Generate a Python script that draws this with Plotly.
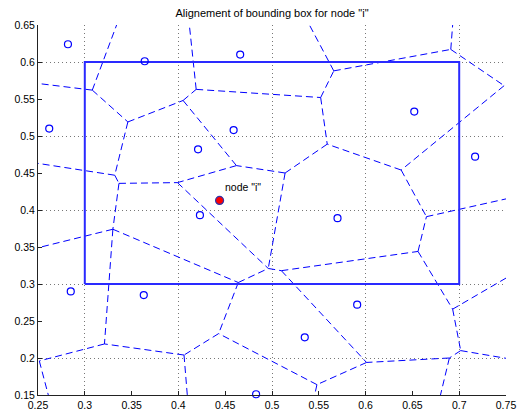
import plotly.graph_objects as go

title_text = 'Alignement of bounding box for node "i"'
node_label = 'node "i"'

# data sites (open circles)
site_x = [0.282, 0.364, 0.466, 0.262, 0.459, 0.421, 0.652, 0.717, 0.423,
          0.285, 0.363, 0.483, 0.570, 0.591, 0.535]
site_y = [0.624, 0.601, 0.610, 0.510, 0.508, 0.482, 0.533, 0.472, 0.393,
          0.290, 0.285, 0.151, 0.389, 0.272, 0.228]

# node "i"
node_x = [0.444]
node_y = [0.413]

# bounding box extents
box_x = [0.3, 0.7]
box_y = [0.3, 0.6]

# Voronoi vertices (incl. points where edges leave the view)
vert_x = [0.308, 0.346, 0.405, 0.332, 0.3365, 0.399, 0.419, 0.552, 0.462, 0.514,
          0.566, 0.691, 0.748, 0.638, 0.559, 0.665, 0.496, 0.510, 0.330, 0.321,
          0.464, 0.443, 0.548, 0.406, 0.2514, 0.656, 0.693, 0.7016, 0.601, 0.6895,
          0.334, 0.25, 0.25, 0.4117, 0.540, 0.693, 0.75, 0.75, 0.75, 0.680,
          0.5456, 0.4095, 0.261, 0.25]
vert_y = [0.562, 0.519, 0.548, 0.447, 0.436, 0.437, 0.563, 0.552, 0.460, 0.450,
          0.588, 0.617, 0.568, 0.454, 0.489, 0.391, 0.321, 0.318, 0.374, 0.219,
          0.302, 0.233, 0.164, 0.204, 0.196, 0.344, 0.266, 0.210, 0.194, 0.200,
          0.65, 0.571, 0.463, 0.65, 0.65, 0.65, 0.415, 0.308, 0.1996, 0.15,
          0.15, 0.15, 0.15, 0.349]

# Voronoi edges as vertex index pairs
edges = [(0, 30), (0, 31), (0, 1), (1, 2), (1, 3), (2, 6), (2, 8), (6, 33), (6, 7),
         (7, 10), (7, 14), (10, 34), (10, 11), (11, 35), (11, 12), (12, 13),
         (13, 14), (13, 15), (14, 9), (9, 8), (9, 16), (8, 5), (3, 32), (3, 4),
         (4, 5), (4, 18), (5, 16), (18, 43), (18, 19), (18, 20), (20, 16), (20, 21),
         (16, 17), (17, 25), (17, 28), (25, 15), (25, 26), (15, 36), (26, 37),
         (26, 27), (27, 38), (27, 29), (29, 28), (29, 39), (28, 22), (22, 21),
         (22, 40), (21, 23), (23, 19), (23, 41), (19, 24), (24, 42)]

x_ticks = [0.25, 0.3, 0.35, 0.4, 0.45, 0.5, 0.55, 0.6, 0.65, 0.7, 0.75]
x_tick_text = ["0.25", "0.3", "0.35", "0.4", "0.45", "0.5", "0.55", "0.6", "0.65", "0.7", "0.75"]
y_ticks = [0.15, 0.2, 0.25, 0.3, 0.35, 0.4, 0.45, 0.5, 0.55, 0.6, 0.65]
y_tick_text = ["0.15", "0.2", "0.25", "0.3", "0.35", "0.4", "0.45", "0.5", "0.55", "0.6", "0.65"]
x_grid = [0.3, 0.4, 0.5, 0.6, 0.7]
y_grid = [0.2, 0.3, 0.4, 0.5, 0.6]

BLUE = "#0000FF"
FONT = "Liberation Sans, Arial, sans-serif"
W, H = 518, 413

ex, ey = [], []
for a, b in edges:
    ex += [vert_x[a], vert_x[b], None]
    ey += [vert_y[a], vert_y[b], None]

rx = [box_x[0], box_x[1], box_x[1], box_x[0], box_x[0]]
ry = [box_y[0], box_y[0], box_y[1], box_y[1], box_y[0]]

fig = go.Figure()
fig.add_trace(go.Scatter(x=ex, y=ey, mode="lines",
                         line=dict(color=BLUE, width=1, dash="7px,4px"),
                         hoverinfo="skip", showlegend=False))
fig.add_trace(go.Scatter(x=rx, y=ry, mode="lines",
                         line=dict(color="#2a2aff", width=2),
                         showlegend=False))
fig.add_trace(go.Scatter(x=site_x, y=site_y, mode="markers",
                         marker=dict(symbol="circle-open", size=7, color=BLUE,
                                     line=dict(width=1.2, color=BLUE)),
                         cliponaxis=False, showlegend=False))
fig.add_trace(go.Scatter(x=node_x, y=node_y, mode="markers",
                         marker=dict(symbol="circle", size=8, color="#FF0000",
                                     line=dict(width=1.2, color="#3333AA")),
                         cliponaxis=False, showlegend=False))
# invisible trace to carry the grid axes
fig.add_trace(go.Scatter(x=[None], y=[None], xaxis="x2", yaxis="y2",
                         showlegend=False, hoverinfo="skip"))

fig.add_annotation(x=node_x[0], y=node_y[0], text=node_label, showarrow=False,
                   xanchor="left", yanchor="bottom", xshift=3, yshift=5,
                   font=dict(family=FONT, size=10.5, color="black"))

xr = [x_ticks[0], x_ticks[-1]]
yr = [y_ticks[0], y_ticks[-1]]

fig.update_layout(
    width=W, height=H,
    margin=dict(l=38, r=12, t=25, b=18, autoexpand=False),
    paper_bgcolor="white", plot_bgcolor="white",
    font=dict(family=FONT, size=10.5, color="black"),
    title=dict(text=title_text, x=272 / W, xanchor="center",
               y=1 - 13 / H, yanchor="middle",
               font=dict(family=FONT, size=11, color="black")),
    xaxis=dict(range=xr, tickvals=x_ticks, ticktext=x_tick_text, automargin=False,
               showgrid=False, zeroline=False, showline=True, linecolor="#222222",
               linewidth=1, ticks="inside", ticklen=4, tickcolor="#222222",
               tickfont=dict(size=10.5), mirror=False, ticklabeloverflow="allow"),
    yaxis=dict(range=yr, tickvals=y_ticks, ticktext=y_tick_text, automargin=False,
               showgrid=False, zeroline=False, showline=True, linecolor="#222222",
               linewidth=1, ticks="inside", ticklen=4, tickcolor="#222222",
               tickfont=dict(size=10.5), mirror=False, ticklabeloverflow="allow"),
    xaxis2=dict(range=xr, overlaying="x", tickvals=x_grid, showticklabels=False,
                automargin=False,
                showgrid=True, gridcolor="#777777", griddash="1px,3px", gridwidth=1,
                zeroline=False, showline=False, ticks=""),
    yaxis2=dict(range=yr, overlaying="y", tickvals=y_grid, showticklabels=False,
                automargin=False,
                showgrid=True, gridcolor="#777777", griddash="1px,3px", gridwidth=1,
                zeroline=False, showline=False, ticks=""),
)

fig.write_html("out.html",
               config={"displayModeBar": False, "staticPlot": True},
               post_script="document.body.style.margin='0';"
                           "document.body.style.overflow='hidden';")
